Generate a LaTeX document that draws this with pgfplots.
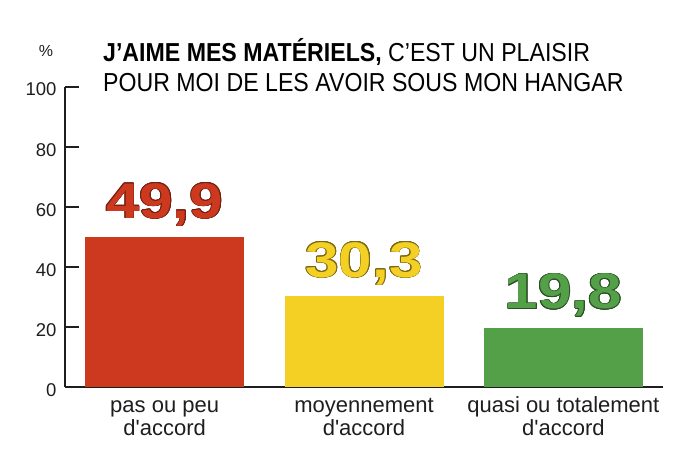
\documentclass[border=0pt]{standalone}
\usepackage{pgfplots}
\pgfplotsset{compat=1.18}
\usepackage{fontspec}
\setmainfont{Liberation Sans}
\newfontfamily\catfont{Liberation Sans}
\usepackage{contour}
\contourlength{0.6pt}
\definecolor{cred}{RGB}{205,57,30}
\definecolor{cyel}{RGB}{245,208,36}
\definecolor{cgreen}{RGB}{84,160,72}
\definecolor{axcol}{RGB}{30,30,30}
\begin{document}
\begin{tikzpicture}[x=1pt,y=1pt]
\useasboundingbox (-65,-82) rectangle (635,387);
\begin{axis}[
  at={(0,0)}, anchor=south west,
  scale only axis, width=598pt, height=300pt,
  xmin=-0.5, xmax=2.5, ymin=0, ymax=100,
  axis x line=bottom, axis y line=left,
  axis line style={-, line width=1.3pt, axcol},
  ytick={0,20,40,60,80,100},
  xtick={0,1,2},
  xticklabels={pas ou peu\\d'accord, moyennement\\d'accord, quasi ou totalement\\d'accord},
  x tick style={draw=none},
  y tick style={line width=1.3pt, axcol},
  major tick length=14pt, tick align=inside,
  /pgf/number format/assume math mode=true,
  yticklabel style={font=\catfont\fontsize{18.5}{20}\selectfont, text=axcol, xshift=-5pt, yshift=-5pt},
  xticklabel style={font=\catfont\fontsize{22}{23}\selectfont, align=center, text=axcol, anchor=base, yshift=-34pt, inner sep=0pt},
  typeset ticklabels with strut,
  ybar, bar width=159pt, bar shift=0pt,
  nodes near coords style={font=\catfont\bfseries\fontsize{50}{50}\selectfont, anchor=base, yshift=19pt, inner sep=0pt},
]
\addplot[fill=cred, draw=none, nodes near coords={\scalebox{1.2}[1]{\contour{cred!55!black}{\pgfmathprintnumber[use comma,fixed,precision=1,fixed zerofill]{\pgfplotspointmeta}}}}, every node near coord/.append style={text=cred}] coordinates {(0,49.9)};
\addplot[fill=cyel, draw=none, nodes near coords={\scalebox{1.2}[1]{\contour{cyel!50!black}{\pgfmathprintnumber[use comma,fixed,precision=1,fixed zerofill]{\pgfplotspointmeta}}}}, every node near coord/.append style={text=cyel}] coordinates {(1,30.3)};
\addplot[fill=cgreen, draw=none, nodes near coords={\scalebox{1.2}[1]{\contour{cgreen!50!black}{\pgfmathprintnumber[use comma,fixed,precision=1,fixed zerofill]{\pgfplotspointmeta}}}}, every node near coord/.append style={text=cgreen}] coordinates {(2,19.8)};
\end{axis}
\node[anchor=base, font=\catfont\fontsize{16}{18}\selectfont, text=axcol] at (-19,330) {\%};
\node[anchor=base west, inner sep=0pt, font=\fontsize{26}{30}\selectfont] at (38,325) {\scalebox{0.89}[1]{\textbf{J’AIME MES MATÉRIELS,} C’EST UN PLAISIR}};
\node[anchor=base west, inner sep=0pt, font=\fontsize{26}{30}\selectfont] at (38,295) {\scalebox{0.89}[1]{POUR MOI DE LES AVOIR SOUS MON HANGAR}};
\end{tikzpicture}
\end{document}
